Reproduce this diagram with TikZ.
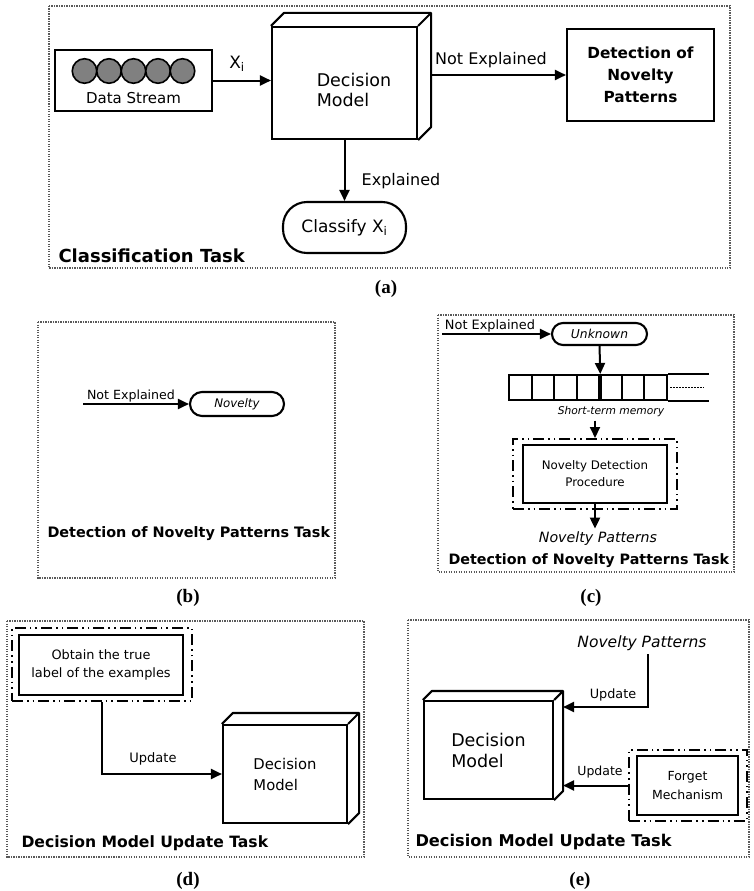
\documentclass[tikz,border=0pt]{standalone}
\usepackage{fontspec}
\setmainfont{DejaVu Sans}
\newfontfamily\capfont{Liberation Serif}
\usetikzlibrary{arrows.meta,positioning}
\newcommand\fsz[2]{\fontsize{#1pt}{#2pt}\selectfont}
% top and side faces of a solid box drawn behind a node
\newcommand\cubeface[2]{\draw[line width=2.1pt,line join=round] (#1.north west) -- ++(#2,-#2) -| ([shift={(#2,-#2)}]#1.south east) -- (#1.south east) (#1.north east) -- ++(#2,-#2);}
\tikzset{
  panel/.style={draw=black!65,line width=1.5pt,dash pattern=on 1.2pt off 1.3pt},
  box/.style={draw,line width=2.1pt,inner sep=0pt,align=center},
  pill/.style={box,rounded corners=#1},
  dotdash/.style={draw,line width=2pt,dash pattern=on 11pt off 4pt on 1.6pt off 4pt on 1.6pt off 4pt},
  flow/.style={-{Triangle[length=11pt,width=10pt]},line width=2pt},
  tasktitle/.style={anchor=west,font={\bfseries\fsz{#1}{#1}}},
  sublabel/.style={font={\capfont\bfseries\fsz{19}{19}}},
  bead/.style={circle,draw,line width=1.6pt,fill=black!50,minimum size=24.5pt,inner sep=0pt},
  cell/.style={draw,line width=2pt,minimum width=22.6pt,minimum height=25pt,inner sep=0pt}
}
\begin{document}
\begin{tikzpicture}[x=1pt,y=-1pt]
  \useasboundingbox (0,0) rectangle (753,891);
  % (a) classification task
  \draw[panel] (49,6) rectangle (730,268);
  \node[box,minimum width=157pt,minimum height=61pt] (stream) at (133.5,80.5) {};
  \foreach \k in {0,...,4}
    \node[bead] (bead\k) at (84.5+24.5*\k,71) {};
  \node[font=\fsz{15}{18}] (streamtxt) at (133.5,98) {Data Stream};
  \node[box,minimum width=145pt,minimum height=112pt] (dmA) at (344.5,83) {};
  \cubeface{dmA}{13}
  \coordinate (dmAback) at ([xshift=13pt]dmA.east);
  \node[font=\fsz{17.5}{20},align=left] (dmAtxt) at (354,90) {Decision\\Model};
  \node[box,font=\bfseries\fsz{15.3}{22},minimum width=147pt,minimum height=92pt] (novA) at (640.5,75) {Detection of\\Novelty\\Patterns};
  \node[pill=24pt,minimum width=123pt,minimum height=51pt,font=\fsz{17}{20}] (classify) at (344.5,227.5) {Classify X\textsubscript{i}};
  \draw[flow] (stream.east) -- (stream.east -| dmA.west);
  \node[font=\fsz{17}{20}] (xi) at (237,64) {X\textsubscript{i}};
  \draw[flow] (dmAback |- novA.west) -- (novA.west);
  \node[font=\fsz{16}{18}] (notexpA) at (491,60) {Not Explained};
  \draw[flow] (dmA.south) -- (classify.north);
  \node[font=\fsz{16}{18}] (expA) at (401,181) {Explained};
  \node[tasktitle=18] (taskA) at (55,256) {Classification Task};
  \node[sublabel] (capA) at (386,289) {(a)};

  % (b) novelty detection, first step
  \draw[panel] (38,322) rectangle (335,578);
  \coordinate (inB) at (83,404);
  \node[pill=12pt,minimum width=94pt,minimum height=24pt,font=\itshape\fsz{11.8}{14}] (novB) at (237,404) {Novelty};
  \draw[flow] (inB) -- (novB.west);
  \node[font=\fsz{12.6}{14}] (notexpB) at (131,396.5) {Not Explained};
  \node[tasktitle=14.4] (taskB) at (44,534) {Detection of Novelty Patterns Task};
  \node[sublabel] (capB) at (188,598) {(b)};

  % (c) novelty detection with short-term memory
  \draw[panel] (438,315) rectangle (734,572);
  \coordinate (inC) at (442,334);
  \node[pill=11pt,minimum width=95pt,minimum height=22pt,font=\itshape\fsz{12.3}{14}] (unknown) at (599.5,334) {Unknown};
  \draw[flow] (inC) -- (unknown.west);
  \node[font=\fsz{12.9}{14}] (notexpC) at (490,326) {Not Explained};
  \foreach \c in {0,...,6}
    \node[cell] (cell\c) at (520.3+22.57*\c,387.5) {};
  \draw[line width=2pt] (cell6.north east) -- ++(41,0) (cell6.south east) -- ++(41,0);
  \draw[line width=1.2pt,dash pattern=on 1.5pt off 1.5pt] ([xshift=2pt]cell6.east) -- ++(34,0);
  \draw[flow] (unknown.south) -- (cell3.north east);
  \draw[line width=3pt] (cell3.north east) -- (cell3.south east);
  \node[font=\itshape\fsz{10.7}{13}] (memory) at (611,412) {Short-term memory};
  \node[dotdash,minimum width=164pt,minimum height=70pt] (ndpFrame) at (595,474) {};
  \node[box,minimum width=144pt,minimum height=58pt,font=\fsz{11.8}{17}] (ndp) at (595,474) {Novelty Detection\\Procedure};
  \draw[flow] (memory.south -| ndpFrame.north) -- (ndpFrame.north);
  \node[font=\itshape\fsz{14.2}{16}] (patC) at (598,539) {Novelty Patterns};
  \draw[flow] (ndp.south) -- (ndp.south |- patC.north);
  \node[tasktitle=14.3] (taskC) at (445,561) {Detection of Novelty Patterns Task};
  \node[sublabel] (capC) at (591,598) {(c)};

  % (d) model update with true labels
  \draw[panel] (7,621) rectangle (364,857);
  \node[dotdash,minimum width=180pt,minimum height=73pt] (obtainFrame) at (102,664.5) {};
  \node[box,minimum width=164pt,minimum height=60pt,font=\fsz{12.9}{18}] (obtain) at (101,665) {Obtain the true\\label of the examples};
  \node[box,minimum width=124pt,minimum height=98pt,font=\fsz{14.8}{21},align=left] (dmD) at (285,774) {Decision\\Model};
  \cubeface{dmD}{11}
  \draw[flow] (obtainFrame.south) |- (dmD.west);
  \node[font=\fsz{13}{15}] (updD) at (153,759) {Update};
  \node[tasktitle=15.6] (taskD) at (18,843) {Decision Model Update Task};
  \node[sublabel] (capD) at (188,881) {(d)};

  % (e) model update with novelty patterns and forgetting
  \draw[panel] (408,620) rectangle (749,857);
  \node[box,minimum width=129pt,minimum height=98pt,font=\fsz{17.5}{21},align=left] (dmE) at (488.5,750) {Decision\\Model};
  \cubeface{dmE}{9}
  \coordinate (dmEside) at ([xshift=9pt]dmE.east);
  \node[font=\itshape\fsz{15.5}{18}] (patE) at (642,643) {Novelty Patterns};
  \draw[flow] ([xshift=6pt]patE.south) |- ([yshift=43pt]dmEside);
  \node[font=\fsz{12.8}{15}] (updE1) at (613,695) {Update};
  \node[dotdash,minimum width=118pt,minimum height=71pt] (forgetFrame) at (688,785.5) {};
  \node[box,minimum width=101pt,minimum height=59pt,font=\fsz{12.5}{19}] (forget) at (687.5,785.5) {Forget\\Mechanism};
  \draw[flow] (forgetFrame.west) -- (forgetFrame.west -| dmEside);
  \node[font=\fsz{12.5}{15}] (updE2) at (600,772) {Update};
  \node[tasktitle=16.2] (taskE) at (412,842) {Decision Model Update Task};
  \node[sublabel] (capE) at (580,881) {(e)};
\end{tikzpicture}
\end{document}
